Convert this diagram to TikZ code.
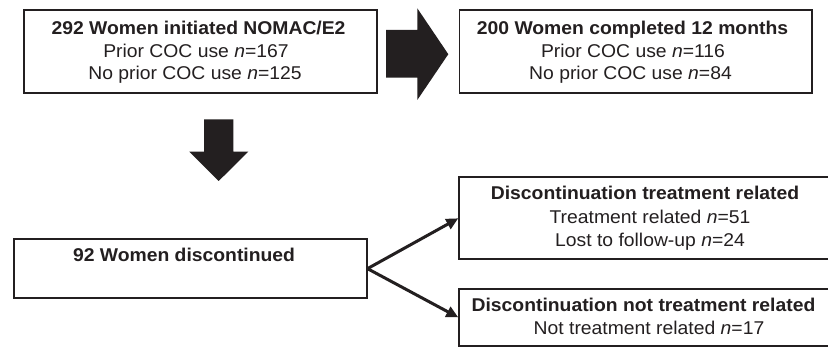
\documentclass[tikz,border=0pt]{standalone}
\usepackage{fontspec}
\setmainfont{Liberation Sans}[FakeStretch=1.045]
\usetikzlibrary{arrows.meta}
\definecolor{ink}{HTML}{231F20}
\begin{document}
\begin{tikzpicture}[x=1pt,y=-1pt,
  box/.style={draw=ink, line width=1.8pt, inner sep=0pt, anchor=north west},
  bt/.style={anchor=base, inner sep=0pt, font=\fontsize{18.5}{22}\selectfont\bfseries, text=ink},
  rt/.style={anchor=base, inner sep=0pt, font=\fontsize{18.5}{22}\selectfont, text=ink},
  link/.style={draw=ink, line width=3pt, -{Triangle[length=12pt,width=11pt]}},
  blockarrow/.style={fill=ink}]
\clip (0,0) rectangle (828,347);
\fill[white] (0,0) rectangle (828,347);
% boxes
\node[box, minimum width=352.7pt, minimum height=82.8pt] (A) at (23,9.5) {};
\node[box, minimum width=352.5pt, minimum height=82.8pt] (B) at (458.5,9.5) {};
\node[box, minimum width=353pt, minimum height=59.5pt] (C) at (12.7,238) {};
\node[box, minimum width=372pt, minimum height=81.8pt] (D) at (458.3,176.5) {};
\node[box, minimum width=372pt, minimum height=57pt] (E) at (458.3,288) {};
% texts
\node[bt] (a1) at (198.5,34.3) {292 Women initiated NOMAC/E2};
\node[rt] (a2) at (196,57.5) {Prior COC use \textit{n}=167};
\node[rt] (a3) at (195,79.5) {No prior COC use \textit{n}=125};
\node[bt] (b1) at (632.5,34.3) {200 Women completed 12 months};
\node[rt] (b2) at (633,57.5) {Prior COC use \textit{n}=116};
\node[rt] (b3) at (630.5,79.5) {No prior COC use \textit{n}=84};
\node[bt] (c1) at (184,262) {92 Women discontinued};
\node[bt] (d1) at (645,199.3) {Discontinuation treatment related};
\node[rt] (d2) at (650,223.3) {Treatment related \textit{n}=51};
\node[rt] (d3) at (650,246.7) {Lost to follow-up \textit{n}=24};
\node[bt] (e1) at (643.5,311.7) {Discontinuation not treatment related};
\node[rt] (e2) at (649,335) {Not treatment related \textit{n}=17};
% block arrows
\fill[blockarrow] (386,30) -- (417.3,30) -- (417.3,8.3) -- (448.3,54.2) -- (417.3,100) -- (417.3,77.7) -- (386,77.7) -- cycle;
\fill[blockarrow] (204,119.3) -- (233.3,119.3) -- (233.3,151.7) -- (248.3,151.7) -- (218.7,181) -- (189.3,151.7) -- (204,151.7) -- cycle;
% connectors
\draw[link] (C.east) -- (D.west);
\draw[link] (C.east) -- (E.west);
\end{tikzpicture}
\end{document}
